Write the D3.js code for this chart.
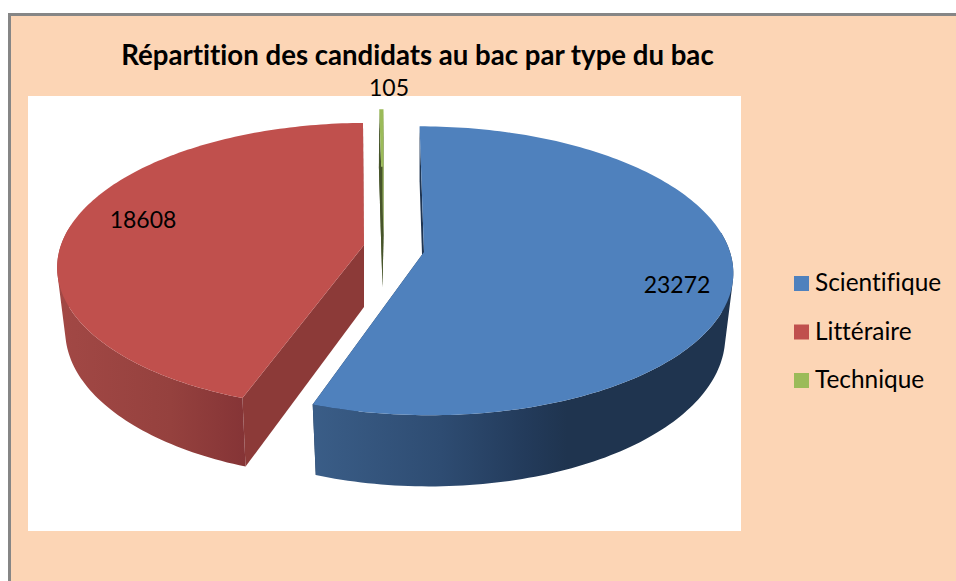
<!DOCTYPE html>
<html><head><meta charset="utf-8">
<script src="https://cdn.jsdelivr.net/npm/d3@7/dist/d3.min.js"></script>
<style>html,body{margin:0;padding:0;background:#fff;overflow:hidden}svg{display:block}text{font-family:Lato,"Open Sans",sans-serif;fill:#000;font-variant-ligatures:none}</style>
</head><body><svg id="c" width="956" height="581"></svg>
<script>
const categories = ["Scientifique","Littéraire","Technique"];
const values = [23272,18608,105];
const colors = ["#4F81BD","#C0504D","#9BBB59"];
const titleText = "Répartition des candidats au bac par type du bac";

const svg = d3.select("#c");
const W=956,H=581;
svg.append("rect").attr("width",W).attr("height",H).attr("fill","#fff");
svg.append("rect").attr("x",8).attr("y",13).attr("width",W-8).attr("height",H-13).attr("fill","#868686");
svg.append("rect").attr("x",11).attr("y",16).attr("width",W-11).attr("height",H-16).attr("fill","#FCD5B5");
svg.append("rect").attr("x",28).attr("y",96).attr("width",713).attr("height",435).attr("fill","#fff");

// projection of each exploded, tilted slice
const geom=[
  {ax:424,ay:252,rx:306,ry:142,k:0.13,rxB:298,ryB:150,skew:5,depth:62,bx:0},
  {ax:364,ay:245,rx:303,ry:140,k:0.1465,rxB:295,ryB:146,skew:-3.6,depth:62,bx:0},
  {ax:383.5,ay:235,rx:306,ry:142,k:0.13,rxB:260,ryB:136,skew:0,depth:52,bx:-1}
];
function proj(i,a,r,bottom){
  const g=geom[i];
  const u=r*Math.sin(a), v=-r*Math.cos(a), s=1/(1-g.k*v);
  return [g.ax+(bottom?g.bx:0)+((bottom?g.rxB:g.rx)*u+g.skew*v)*s, g.ay+(bottom?g.depth:0)+(bottom?g.ryB:g.ry)*v*s];
}
const pie=d3.pie().sort(null).value(d=>d);
const arcs=pie(values);
const line=d3.line();
function samples(a0,a1){const n=Math.max(2,Math.ceil((a1-a0)/0.02));return d3.range(n+1).map(j=>a0+(a1-a0)*j/n);}

const defs=svg.append("defs");
function grad(id,x0,x1,stops){
  const g=defs.append("linearGradient").attr("id",id).attr("gradientUnits","userSpaceOnUse").attr("x1",x0).attr("x2",x1).attr("y1",0).attr("y2",0);
  stops.forEach(s=>g.append("stop").attr("offset",s[0]).attr("stop-color",s[1]));
}
grad("wb",315,735,[[0,"#3A5D87"],[0.3,"#2E4C72"],[0.5,"#233B5B"],[0.6,"#1F344F"],[1,"#1F344F"]]);
grad("wr",58,246,[[0,"#A24845"],[0.6,"#95413E"],[1,"#853436"]]);
const wallFill=["url(#wb)","url(#wr)","#47552A"];
const cutFill=["#1F3552","#8C3A38","#47552A"];
const frontFrom=Math.PI*0.45, frontTo=Math.PI*1.55;

function drawSlice(i){
  const d=arcs[i], g=svg.append("g");
  const A=samples(d.startAngle,d.endAngle);
  [d.startAngle,d.endAngle].forEach(a=>{
    g.append("path").attr("fill",cutFill[i]).attr("d",line([proj(i,a,1,false),proj(i,a,1,true),proj(i,a,0,true),proj(i,a,0,false)])+"Z");
  });
  // front part of the outer wall: one path of equally wound quads, so the silhouette stays filled
  const quads=d3.pairs(A).filter(([a,b])=>a>=frontFrom&&b<=frontTo)
    .map(([a,b])=>{
      const q=[proj(i,a,1,false),proj(i,b,1,false),proj(i,b,1,true),proj(i,a,1,true)];
      return line(d3.polygonArea(q)<0?q.reverse():q)+"Z";
    }).join("");
  if(quads) g.append("path").attr("fill",wallFill[i]).attr("d",quads);
  g.append("path").attr("fill",colors[i]).attr("d",line([proj(i,d.startAngle,0,false)].concat(A.map(a=>proj(i,a,1,false))))+"Z");
  // the thin slice shows its dark underside through the top face
  if(i===2){
    g.append("path").attr("fill","#47552A").attr("d",line([proj(i,d.startAngle,1,true),proj(i,d.endAngle,1,true),proj(i,0,0,true)])+"Z");
  }
}
[1,2,0].forEach(drawSlice);

svg.append("text").attr("x",417.5).attr("y",65).attr("text-anchor","middle").attr("font-size",27.6).attr("font-weight",700).text(titleText);
const labelPos=[[677,293],[143,228],[389,96]];
values.forEach((v,i)=>svg.append("text").attr("x",labelPos[i][0]).attr("y",labelPos[i][1]).attr("text-anchor","middle").attr("font-size",23).text(v));
const legendY=d3.scalePoint().domain(categories).range([276,373]);
categories.forEach((c,i)=>{
  svg.append("rect").attr("x",794).attr("y",legendY(c)).attr("width",15).attr("height",15).attr("fill",colors[i]);
  svg.append("text").attr("x",815).attr("y",legendY(c)+15).attr("font-size",24.4).text(c);
});
</script></body></html>
